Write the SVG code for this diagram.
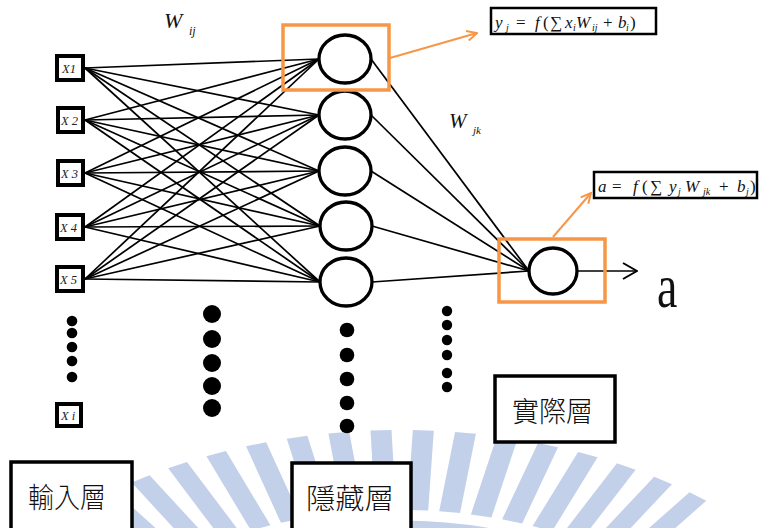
<svg xmlns="http://www.w3.org/2000/svg" width="761" height="528" viewBox="0 0 761 528">
<style>
.wm{fill:#c2d0ea}
.inbox{fill:#fff;stroke:#000;stroke-width:4}
.inlbl{font-family:"Liberation Serif",serif;font-style:italic;font-size:12.5px;fill:#222}
.neuron{fill:#fff;stroke:#000;stroke-width:3.3}
.conn line{stroke:#000;stroke-width:1.7}
.conn line.oarr{stroke:#f79646;stroke-width:2;fill:none}
.dot{fill:#000}
.obox{fill:none;stroke:#f79646;stroke-width:3.5}
.fbox{fill:#fff;stroke:#000;stroke-width:2.5}
.fm{font-family:"Liberation Serif",serif;font-size:17px;fill:#111}
.it{font-style:italic}
.sub{font-style:italic;font-size:10px}
.lbox{fill:#fff;stroke:#000;stroke-width:3.5}
.cjk{font-family:"Noto Sans CJK TC","Noto Sans CJK SC",sans-serif;font-size:28px;font-weight:300;fill:#111}
.wl{font-family:"Liberation Serif",serif;font-style:italic;fill:#111}
.big{font-family:"Liberation Serif",serif;font-size:62px;fill:#111}
</style>
<defs>
<marker id="oh" viewBox="0 0 12 12" refX="11" refY="6" markerWidth="12" markerHeight="12" markerUnits="userSpaceOnUse" orient="auto">
<path d="M1,1 L11,6 L1,11" fill="none" stroke="#f79646" stroke-width="2"/>
</marker>
<marker id="bh" viewBox="0 0 16 18" refX="15" refY="9" markerWidth="16" markerHeight="18" markerUnits="userSpaceOnUse" orient="auto">
<path d="M1,1 L15,9 L1,17" fill="none" stroke="#000" stroke-width="2"/>
</marker>
<rect id="bar" x="-7" y="-330" width="14" height="80"/>
</defs>
<rect width="761" height="528" fill="#fff"/>
<g id="watermark" class="wm" transform="translate(400,760) scale(1.5,1)">
<use href="#bar" transform="rotate(-41.4)"/>
<use href="#bar" transform="rotate(-36.5)"/>
<use href="#bar" transform="rotate(-31.6)"/>
<use href="#bar" transform="rotate(-26.7)"/>
<use href="#bar" transform="rotate(-21.8)"/>
<use href="#bar" transform="rotate(-16.9)"/>
<use href="#bar" transform="rotate(-12)"/>
<use href="#bar" transform="rotate(-7.1)"/>
<use href="#bar" transform="rotate(-2.2)"/>
<use href="#bar" transform="rotate(2.7)"/>
<use href="#bar" transform="rotate(7.6)"/>
<use href="#bar" transform="rotate(12.5)"/>
<use href="#bar" transform="rotate(17.4)"/>
<use href="#bar" transform="rotate(22.3)"/>
<use href="#bar" transform="rotate(27.2)"/>
<use href="#bar" transform="rotate(32.1)"/>
<use href="#bar" transform="rotate(37)"/>
<circle r="207" fill="none" stroke="#c2d0ea" stroke-width="65"/>
</g>
<g id="connectors" class="conn">
<line x1="85" y1="68" x2="319" y2="59"/><line x1="85" y1="68" x2="319" y2="115"/><line x1="85" y1="68" x2="319" y2="171"/><line x1="85" y1="68" x2="320" y2="226"/><line x1="85" y1="68" x2="320" y2="282"/>
<line x1="85" y1="120" x2="319" y2="59"/><line x1="85" y1="120" x2="319" y2="115"/><line x1="85" y1="120" x2="319" y2="171"/><line x1="85" y1="120" x2="320" y2="226"/><line x1="85" y1="120" x2="320" y2="282"/>
<line x1="85" y1="173" x2="319" y2="59"/><line x1="85" y1="173" x2="319" y2="115"/><line x1="85" y1="173" x2="319" y2="171"/><line x1="85" y1="173" x2="320" y2="226"/><line x1="85" y1="173" x2="320" y2="282"/>
<line x1="85" y1="227" x2="319" y2="59"/><line x1="85" y1="227" x2="319" y2="115"/><line x1="85" y1="227" x2="319" y2="171"/><line x1="85" y1="227" x2="320" y2="226"/><line x1="85" y1="227" x2="320" y2="282"/>
<line x1="85" y1="279" x2="319" y2="59"/><line x1="85" y1="279" x2="319" y2="115"/><line x1="85" y1="279" x2="319" y2="171"/><line x1="85" y1="279" x2="320" y2="226"/><line x1="85" y1="279" x2="320" y2="282"/>
<line x1="371" y1="59" x2="529" y2="271"/><line x1="371" y1="115" x2="529" y2="271"/><line x1="371" y1="171" x2="529" y2="271"/><line x1="372" y1="226" x2="529" y2="271"/><line x1="372" y1="282" x2="529" y2="271"/>
<line x1="577" y1="271" x2="637" y2="271" marker-end="url(#bh)"/>
<line class="oarr" x1="390" y1="58" x2="477" y2="33" marker-end="url(#oh)"/>
<line class="oarr" x1="553" y1="237" x2="591" y2="193" marker-end="url(#oh)"/>
</g>
<g id="x1"><rect class="inbox" x="57" y="56" width="26" height="24"/><text class="inlbl" x="62" y="73">X1</text></g>
<g id="x2"><rect class="inbox" x="58" y="108" width="25" height="24"/><text class="inlbl" x="61" y="125">X 2</text></g>
<g id="x3"><rect class="inbox" x="58" y="161" width="25" height="24"/><text class="inlbl" x="61" y="178">X 3</text></g>
<g id="x4"><rect class="inbox" x="57" y="215" width="26" height="24"/><text class="inlbl" x="60" y="232">X 4</text></g>
<g id="x5"><rect class="inbox" x="57" y="267" width="26" height="24"/><text class="inlbl" x="60" y="284">X 5</text></g>
<g id="xi"><rect class="inbox" x="57" y="404" width="24" height="22"/><text class="inlbl" x="61" y="420">X i</text></g>
<g id="input-dots" class="dot"><circle cx="72" cy="321" r="5.3"/><circle cx="72" cy="333" r="5.3"/><circle cx="72" cy="347" r="5.3"/><circle cx="72" cy="361" r="5.3"/><circle cx="72" cy="377" r="5.3"/></g>
<g id="weight-dots" class="dot"><circle cx="212" cy="314" r="9"/><circle cx="212" cy="339" r="9"/><circle cx="212" cy="363" r="9"/><circle cx="212" cy="386" r="9"/><circle cx="212" cy="408" r="9"/></g>
<g id="hidden-dots" class="dot"><circle cx="347" cy="330" r="7.3"/><circle cx="347" cy="355" r="7.3"/><circle cx="347" cy="379" r="7.3"/><circle cx="347" cy="403" r="7.3"/><circle cx="347" cy="426" r="7.3"/></g>
<g id="out-dots" class="dot"><circle cx="447" cy="311" r="5.2"/><circle cx="447" cy="325" r="5.2"/><circle cx="447" cy="340" r="5.2"/><circle cx="447" cy="355" r="5.2"/><circle cx="447" cy="373" r="5.2"/><circle cx="447" cy="387" r="5.2"/></g>
<g id="h1"><ellipse class="neuron" cx="345" cy="59" rx="26" ry="24"/></g>
<g id="h2"><ellipse class="neuron" cx="345" cy="115" rx="26" ry="24"/></g>
<g id="h3"><ellipse class="neuron" cx="345" cy="171" rx="26" ry="24"/></g>
<g id="h4"><ellipse class="neuron" cx="346" cy="226" rx="26" ry="24"/></g>
<g id="h5"><ellipse class="neuron" cx="346" cy="282" rx="26" ry="24"/></g>
<g id="hsel"><rect class="obox" x="283" y="25" width="106" height="65"/></g>
<g id="out"><ellipse class="neuron" cx="553" cy="271" rx="24" ry="23"/></g>
<g id="osel"><rect class="obox" x="499" y="239" width="106" height="63"/></g>
<g id="out-label"><text class="big" x="0" y="307" transform="translate(657,0) scale(0.74,1)">a</text></g>
<g id="wij"><text class="wl" x="164" y="28" font-size="22">W</text><text class="wl" x="189" y="35" font-size="12">ij</text></g>
<g id="wjk"><text class="wl" x="449" y="128" font-size="21">W</text><text class="wl" x="473" y="134" font-size="11">jk</text></g>
<g id="formula1"><rect class="fbox" x="491" y="8" width="165" height="26"/>
<text class="fm" y="28"><tspan class="it" x="495">y</tspan><tspan class="sub" x="506" y="31">j</tspan><tspan x="516" y="28">=</tspan><tspan class="it" x="535">f</tspan><tspan x="543">(</tspan><tspan x="550">∑</tspan><tspan class="it" x="565">x</tspan><tspan class="sub" x="573" y="31">i</tspan><tspan class="it" x="576" y="28">W</tspan><tspan class="sub" x="592" y="31">ij</tspan><tspan x="603" y="28">+</tspan><tspan class="it" x="618">b</tspan><tspan class="sub" x="626" y="31">i</tspan><tspan x="630" y="28">)</tspan></text></g>
<g id="formula2"><rect class="fbox" x="594" y="172" width="163" height="26"/>
<text class="fm" y="192"><tspan class="it" x="598">a</tspan><tspan x="612">=</tspan><tspan class="it" x="633">f</tspan><tspan x="642">(</tspan><tspan x="650">∑</tspan><tspan class="it" x="669">y</tspan><tspan class="sub" x="678" y="195">j</tspan><tspan class="it" x="685" y="192">W</tspan><tspan class="sub" x="703" y="195">jk</tspan><tspan x="719" y="192">+</tspan><tspan class="it" x="737">b</tspan><tspan class="sub" x="746" y="195">j</tspan><tspan x="750" y="192">)</tspan></text></g>
<g id="lbl-input"><rect class="lbox" x="11" y="462" width="121" height="80"/><text class="cjk" x="28" y="508" textLength="78" lengthAdjust="spacingAndGlyphs">輸入層</text></g>
<g id="lbl-hidden"><rect class="lbox" x="292" y="463" width="119" height="80"/><text class="cjk" x="306" y="509" textLength="88" lengthAdjust="spacingAndGlyphs">隱藏層</text></g>
<g id="lbl-output"><rect class="lbox" x="495" y="376" width="120" height="66"/><text class="cjk" x="512" y="422" textLength="81" lengthAdjust="spacingAndGlyphs">實際層</text></g>
</svg>
